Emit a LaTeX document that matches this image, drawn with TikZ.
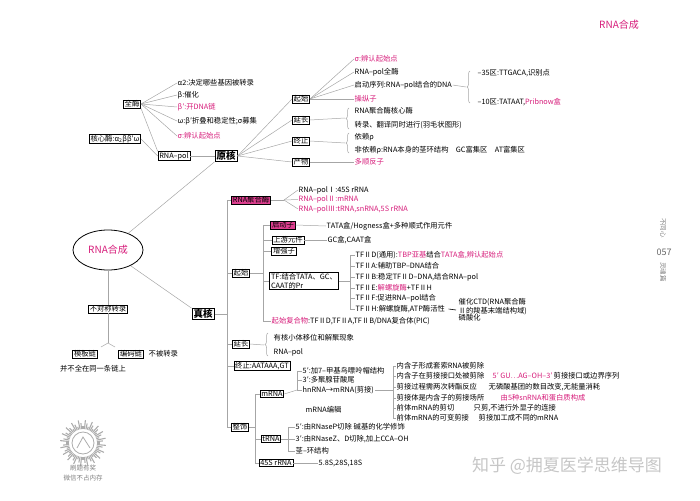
\documentclass[tikz,border=0pt]{standalone}
\usepackage{fontspec}
\setmainfont{Noto Sans CJK SC}
\usetikzlibrary{shapes.geometric,decorations.pathreplacing}
\definecolor{mg}{RGB}{214,28,122}
\newcommand{\fs}{\fontsize{7.3}{8.3}\selectfont}
\begin{document}
\begin{tikzpicture}[x=1pt,y=-1pt,
 txt/.style={anchor=west,inner sep=0.5pt,font=\fs},
 mtxt/.style={txt,text=mg},
 bx/.style={draw,line width=0.8pt,inner xsep=1.3pt,inner ysep=0.6pt,font=\fs},
 mbx/.style={bx,fill=mg!85},
 bigbx/.style={draw,line width=1pt,inner xsep=1.5pt,inner ysep=0.8pt,font=\fontsize{9.5}{10}\selectfont\bfseries},
 ln/.style={draw=gray!70,line width=0.5pt},
 br/.style={draw=gray!70,line width=0.5pt,decorate,decoration={brace,amplitude=3pt}}]
\useasboundingbox (0,0) rectangle (700,500);

% title
\node[text=mg,font=\fontsize{10}{11}\selectfont] (title) at (619,25) {RNA合成};

% centre
\node[ellipse,draw,line width=0.8pt,minimum width=70pt,minimum height=40pt,inner sep=0pt,text=mg,font=\fontsize{10}{11}\selectfont] (c) at (108,250) {RNA合成};

% ---------------- prokaryote
\node[bigbx] (yh) at (226,156) {原核};
\node[bx] (qm) at (132,104) {全酶};
\node[bx] (hxm) at (115,139) {核心酶:α\textsubscript{2}ββ′ω};
\node[bx] (rpol) at (174,156) {RNA–pol};
\node[txt] (a1) at (177,83) {α2:决定哪些基因被转录};
\node[txt] (a2) at (177,95) {β:催化};
\node[mtxt] (a3) at (177,107) {β′:开DNA链};
\node[txt] (a4) at (177,121) {ω:β′折叠和稳定性;σ募集};
\node[mtxt] (a5) at (177,136) {σ:辨认起始点};
\foreach \n in {a1,a2,a3,a4,a5} \draw[ln] (qm.east) -- (\n.west);
\draw[ln] (qm.south east) -- (rpol.north west);
\draw[ln] (hxm.east) -- (rpol.west);
\draw[ln] (rpol.east) -- (yh.west);
\draw[ln] (c) -- (yh.south west);

\node[bx] (pq) at (301,99) {起始};
\node[bx] (py) at (301,120) {延长};
\node[bx] (pz) at (301,141) {终止};
\node[bx] (pc) at (301,162) {产物};
\foreach \n in {pq,py,pz,pc} \draw[ln] (yh.east) -- (\n.west);

\node[mtxt] (q1) at (354,59) {σ:辨认起始点};
\node[txt] (q2) at (354,72) {RNA–pol全酶};
\node[txt] (q3) at (354,85) {启动序列:RNA–pol结合的DNA};
\node[mtxt] (q4) at (354,99) {操纵子};
\foreach \n in {q1,q2,q3,q4} \draw[ln] (pq.east) -- (\n.west);
\coordinate (qbt) at (466,87);
\draw[ln] (q3.east) -- (qbt);
\draw[br] (470,103) -- (470,71);
\node[txt] (m35) at (477,73) {–35区:TTGACA,识别点};
\node[txt] (m10) at (477,102) {–10区:TATAAT,\textcolor{mg}{Pribnow盒}};

\coordinate (ybt) at (345,118);
\draw[ln] (py.east) -- (ybt);
\draw[br] (349,129) -- (349,108);
\node[txt] (y1) at (354,111) {RNA聚合酶核心酶};
\node[txt] (y2) at (354,125) {转录、翻译同时进行(羽毛状图形)};

\coordinate (zbt) at (345,143);
\draw[ln] (pz.east) -- (zbt);
\draw[br] (349,153) -- (349,133);
\node[txt] (z1) at (354,137) {依赖ρ};
\node[txt] (z2) at (354,150) {非依赖ρ:RNA本身的茎环结构\quad GC富集区\quad AT富集区};

\node[mtxt] (cw) at (354,162) {多顺反子};
\draw[ln] (pc.east) -- (cw.west);

% ---------------- asymmetric
\node[bx] (bdc) at (108,309) {不对称转录};
\draw[ln] (c) -- (bdc);
\coordinate (fk) at (108,343);
\coordinate (fkl) at (101,347);
\coordinate (fkr) at (115,347);
\draw[ln] (bdc.south) -- (fk);
\draw[ln] (fkl) -- (fk) -- (fkr);
\node[bx] (mb) at (85,354) {模板链};
\node[bx] (bm) at (131,354) {编码链};
\node[txt] (bbz) at (148,354) {不被转录};
\node[txt,anchor=center] (bq) at (93,369) {并不全在同一条链上};

% ---------------- eukaryote
\node[bigbx] (zh) at (203,314) {真核};
\draw[ln] (c) -- (zh.north west);
\coordinate (s0) at (227,314);
\coordinate (s1) at (227,200);
\coordinate (s2) at (227,273);
\coordinate (s3) at (227,344);
\coordinate (s4) at (227,366);
\coordinate (s5) at (227,427);
\draw[ln] (zh.east) -- (s0);
\draw[ln] (s1) -- (s5);
\node[mbx] (rp) at (251,200) {RNA聚合酶};
\node[bx] (eq) at (241,273) {起始};
\node[bx] (ey) at (241,344) {延长};
\node[bx] (ez) at (262,366) {终止:AATAAA,GT};
\node[bx] (es) at (240,427) {整饰};
\draw[ln] (s1) -- (rp.west);
\draw[ln] (s2) -- (eq.west);
\draw[ln] (s3) -- (ey.west);
\draw[ln] (s4) -- (ez.west);
\draw[ln] (s5) -- (es.west);

\coordinate (rf) at (284,200);
\draw[ln] (rp.east) -- (rf);
\node[txt] (p1) at (298,190) {RNA–polⅠ:45S rRNA};
\node[mtxt] (p2) at (298,199.5) {RNA–polⅡ:mRNA};
\node[mtxt] (p3) at (298,209) {RNA–polⅢ:tRNA,snRNA,5S rRNA};
\foreach \n in {p1,p2,p3} \draw[ln] (rf) -- (\n.west);

% start
\coordinate (t0) at (263,273);
\coordinate (t1) at (263,225);
\coordinate (t2) at (263,240);
\coordinate (t3) at (263,251);
\coordinate (t4) at (263,281);
\coordinate (t5) at (263,321);
\draw[ln] (eq.east) -- (t0);
\draw[ln] (t1) -- (t5);
\node[mbx] (qdz) at (283,225) {启动子};
\node[bx] (syy) at (288,240) {上游元件};
\node[bx] (zqz) at (284,251) {增强子};
\node[bx,align=left,font=\fontsize{7.3}{8.5}\selectfont] (tf) at (304,281) {TF:结合TATA、GC、\\CAAT的Pr};
\node[txt] (pic) at (271,321) {\textcolor{mg}{起始复合物}:TFⅡD,TFⅡA,TFⅡB/DNA复合体(PIC)};
\draw[ln] (t1) -- (qdz.west);
\draw[ln] (t2) -- (syy.west);
\draw[ln] (t3) -- (zqz.west);
\draw[ln] (t4) -- (tf.west);
\draw[ln] (t5) -- (pic.west);
\node[txt] (tata) at (326,226) {TATA盒/Hogness盒+多种顺式作用元件};
\node[txt] (gc) at (327,240) {GC盒,CAAT盒};
\draw[ln] (qdz.east) -- (tata.west);
\draw[ln] (syy.east) -- (gc.west);

\coordinate (tfa) at (350,281);
\coordinate (tfb) at (350,255);
\coordinate (tfc) at (350,309);
\draw[ln] (tf.east) -- (tfa);
\draw[ln] (tfb) -- (tfc);
\node[txt] (d1) at (355,255) {TFⅡD(通用):\textcolor{mg}{TBP亚基}结合\textcolor{mg}{TATA盒,辨认起始点}};
\node[txt] (d2) at (355,266) {TFⅡA:辅助TBP–DNA结合};
\node[txt] (d3) at (355,277) {TFⅡB:稳定TFⅡD–DNA,结合RNA–pol};
\node[txt] (d4) at (355,288) {TFⅡE:\textcolor{mg}{解螺旋酶}+TFⅡH};
\node[txt] (d5) at (355,298) {TFⅡF:促进RNA–pol结合};
\node[txt] (d6) at (355,309) {TFⅡH:解螺旋酶,ATP酶活性};
\foreach \n/\y in {d1/255,d2/266,d3/277,d4/288,d5/298,d6/309} {
  \coordinate (k\n) at (350,\y);
  \draw[ln] (k\n) -- (\n.west);
}
\node[txt,align=left,font=\fontsize{7.3}{7.6}\selectfont] (ctd) at (458,310) {催化CTD(RNA聚合酶\\Ⅱ的羧基末端结构域)\\磷酸化};
\draw[line width=0.6pt] ([xshift=3pt]d6.east) -- ([xshift=-2pt]ctd.west);

% elongation
\coordinate (yb) at (264,345);
\draw[ln] (ey.east) -- (yb);
\draw[br] (268,356) -- (268,333);
\node[txt] (ey1) at (273,338) {有核小体移位和解聚现象};
\node[txt] (ey2) at (273,352) {RNA–pol};

% modification
\coordinate (u0) at (255,427);
\coordinate (u1) at (255,394);
\coordinate (u2) at (255,439);
\coordinate (u3) at (255,463);
\draw[ln] (es.east) -- (u0);
\draw[ln] (u1) -- (u3);
\node[bx] (mr) at (272,394) {mRNA};
\node[bx] (tr) at (271,439) {tRNA};
\node[bx] (rr) at (276,463) {45S rRNA};
\draw[ln] (u1) -- (mr.west);
\draw[ln] (u2) -- (tr.west);
\draw[ln] (u3) -- (rr.west);

\coordinate (m0) at (297,390);
\coordinate (mt) at (297,371);
\draw[ln] (mr.east) -- (m0);
\draw[ln] (mt) -- (m0);
\node[txt] (m1) at (302,371) {5′:加7–甲基鸟嘌呤帽结构};
\node[txt] (m2) at (302,380) {3′:多聚腺苷酸尾};
\node[txt] (m3) at (302,390) {hnRNA→mRNA(剪接)};
\node[txt] (m4) at (305,410) {mRNA编辑};
\coordinate (km2) at (297,380);
\draw[ln] (mt) -- (m1.west);
\draw[ln] (km2) -- (m2.west);
\draw[ln] (m0) -- (m3.west);

\coordinate (h0) at (393,390);
\coordinate (ht) at (393,366);
\coordinate (hb) at (393,418);
\draw[ln] (m3.east) -- (h0);
\draw[ln] (ht) -- (hb);
\node[txt] (h1) at (396,366) {内含子形成套索RNA被剪除};
\node[txt] (h2) at (396,376) {内含子在剪接接口处被剪除};
\node[txt] (h3) at (396,387) {剪接过程需两次转酯反应};
\node[txt] (h4) at (396,398) {剪接体是内含子的剪接场所};
\node[txt] (h5) at (396,408) {前体mRNA的剪切};
\node[txt] (h6) at (396,418) {前体mRNA的可变剪接};
\foreach \n/\y in {h1/366,h2/376,h3/387,h4/398,h5/408,h6/418} {
  \coordinate (k\n) at (393,\y);
  \draw[ln] (k\n) -- (\n.west);
}
\node[mtxt] (h2b) at (492,376) {5′ GU…AG–OH–3′};
\node[txt] (h2c) at (553,376) {剪接接口或边界序列};
\node[txt] (h3b) at (488,387) {无磷酸基团的数目改变,无能量消耗};
\node[mtxt] (h4b) at (500,398) {由5种snRNA和蛋白质构成};
\node[txt] (h5b) at (473,408) {只剪,不进行外显子的连接};
\node[txt] (h6b) at (478,418) {剪接加工成不同的mRNA};

\coordinate (tb0) at (288,439);
\coordinate (tbt) at (288,427);
\coordinate (tbb) at (288,451);
\draw[ln] (tr.east) -- (tb0);
\draw[ln] (tbt) -- (tbb);
\node[txt] (r1) at (295,427) {5′:由RNaseP切除};
\node[txt] (r1b) at (353,427) {碱基的化学修饰};
\node[txt] (r2) at (295,439) {3′:由RNaseZ、D切除,加上CCA–OH};
\node[txt] (r3) at (295,451) {茎–环结构};
\draw[ln] (tbt) -- (r1.west);
\draw[ln] (tb0) -- (r2.west);
\draw[ln] (tbb) -- (r3.west);

\node[txt] (rs) at (318,463) {5.8S,28S,18S};
\draw[ln] (rr.east) -- (rs.west);

% ---------------- QR & marks
\node[circle,minimum size=50pt,inner sep=0pt] (qr) at (83,443) {};
\foreach \a in {0,6,...,354} {
  \pgfmathsetmacro\l{3+mod(\a*13,9)}
  \draw[gray!65,line width=1.1pt] (qr.center) ++(\a:14) -- ++(\a:\l);
}
\draw[gray!65,line width=0.8pt] (qr.center) circle[radius=11];
\draw[gray!65,line width=0.8pt] (77,448) -- (83,437) -- (90,448);
\node[font=\fontsize{6.5}{7}\selectfont,text=gray] (qt1) at (83,468) {刷题有奖};
\node[font=\fontsize{6.5}{7}\selectfont,text=gray] (qt2) at (83,478) {微信不占内存};

\node[rotate=-90,font=\fontsize{6.5}{7}\selectfont,text=gray] (v1) at (663,228) {不同心};
\node[font=\fontsize{9}{10}\selectfont,text=gray!80!black] (v2) at (664,252) {057};
\node[rotate=-90,font=\fontsize{6.5}{7}\selectfont,text=gray] (v3) at (663,272) {灵魂篇};

\node[font=\fontsize{17}{18}\selectfont,text=gray!45] (wm) at (567,466) {知乎 @拥夏医学思维导图};
\end{tikzpicture}
\end{document}
